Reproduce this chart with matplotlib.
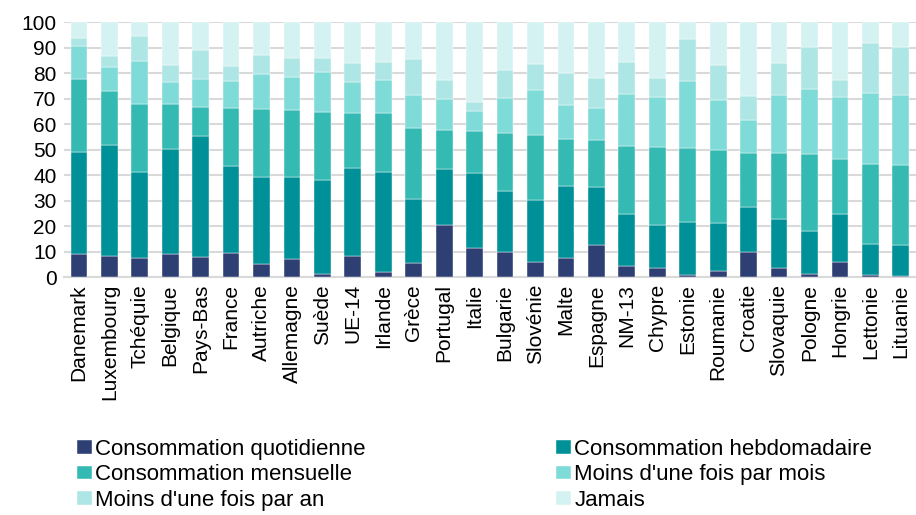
import matplotlib.pyplot as plt
import numpy as np

plt.rcParams['font.family'] = ['Liberation Sans', 'DejaVu Sans']

countries = ['Danemark', 'Luxembourg', 'Tchéquie', 'Belgique', 'Pays-Bas', 'France',
             'Autriche', 'Allemagne', 'Suède', 'UE-14', 'Irlande', 'Grèce', 'Portugal',
             'Italie', 'Bulgarie', 'Slovénie', 'Malte', 'Espagne', 'NM-13', 'Chypre',
             'Estonie', 'Roumanie', 'Croatie', 'Slovaquie', 'Pologne', 'Hongrie',
             'Lettonie', 'Lituanie']

# cumulative tops (%)
cum_quotidienne = [9.2, 8.4, 7.5, 9.2, 8.0, 9.6, 5.2, 7.1, 1.3, 8.4, 2.0, 5.5, 20.3, 11.5,
                   9.8, 5.9, 7.5, 12.6, 4.3, 3.5, 0.9, 2.4, 9.8, 3.7, 1.2, 5.9, 0.7, 0.4]
cum_hebdo = [49.1, 51.8, 41.2, 50.3, 55.4, 43.7, 39.3, 39.3, 38.2, 42.8, 41.2, 30.6, 42.4, 40.8,
             33.6, 30.2, 35.7, 35.3, 24.9, 20.4, 21.7, 21.3, 27.6, 22.8, 17.9, 24.7, 13.0, 12.6]
cum_mensuelle = [77.7, 73.0, 67.9, 67.9, 66.8, 66.4, 66.0, 65.4, 64.8, 64.4, 64.4, 58.5, 57.7, 57.3,
                 56.5, 55.6, 54.2, 53.8, 51.3, 51.0, 50.7, 49.9, 48.7, 48.6, 48.3, 46.3, 44.4, 44.0]
cum_moins_mois = [90.6, 82.5, 84.7, 76.6, 77.7, 77.0, 79.7, 78.5, 80.5, 76.6, 77.4, 71.3, 69.9, 65.2,
                  70.3, 73.4, 67.5, 66.5, 71.9, 70.7, 77.1, 69.4, 61.6, 71.3, 73.8, 70.7, 72.4, 71.3]
cum_moins_an = [93.8, 86.8, 94.6, 83.2, 89.0, 82.9, 87.2, 86.1, 86.0, 83.8, 84.4, 85.5, 77.4, 68.7,
                81.3, 83.6, 80.1, 78.1, 84.4, 78.1, 93.5, 83.2, 71.1, 84.0, 90.3, 77.4, 91.8, 90.1]

tops = np.array([cum_quotidienne, cum_hebdo, cum_mensuelle, cum_moins_mois, cum_moins_an,
                 [100] * len(countries)])
values = np.diff(np.vstack([np.zeros(len(countries)), tops]), axis=0)

labels = ['Consommation quotidienne', 'Consommation hebdomadaire', 'Consommation mensuelle',
          "Moins d'une fois par mois", "Moins d'une fois par an", 'Jamais']
colors = ['#2E3F74', '#009097', '#35BAB3', '#7FDBD7', '#ADE6E4', '#D4F2F2']

fig = plt.figure(figsize=(9.16, 5.15), dpi=100)
ax = fig.add_axes([0.0695, 0.462, 0.9305, 0.495])

x = np.arange(len(countries))
bottom = np.zeros(len(countries))
bars = []
for v, lab, c in zip(values, labels, colors):
    b = ax.bar(x, v, bottom=bottom, width=0.55, color=c, label=lab, zorder=3,
               edgecolor='white', linewidth=0.3)
    bars.append(b)
    bottom += v

ax.set_ylim(0, 100)
ax.set_xlim(-0.5, len(countries) - 0.5)
ax.set_yticks(range(0, 101, 10))
ax.yaxis.grid(True, color='#D9D9D9', linewidth=1.5, zorder=0)
ax.set_axisbelow(True)
for s in ['top', 'right', 'left']:
    ax.spines[s].set_visible(False)
ax.spines['bottom'].set_color('#D9D9D9')
ax.spines['bottom'].set_linewidth(1.5)
ax.tick_params(axis='both', length=0, labelsize=15, colors='black')
ax.tick_params(axis='y', pad=5)
ax.tick_params(axis='x', pad=5)
ax.set_xticks(x)
ax.set_xticklabels(countries, rotation=90)

# row-wise legend order (matplotlib fills columns first)
order = [0, 2, 4, 1, 3, 5]
fig.legend([bars[i] for i in order], [labels[i] for i in order], ncol=2,
           loc='lower left', bbox_to_anchor=(0.067, -0.022), frameon=False,
           fontsize=16, handlelength=0.68, handleheight=0.55, handletextpad=0.15,
           labelspacing=0.2, columnspacing=8.55, borderpad=0.2)

fig.savefig('out.png', dpi=100)
